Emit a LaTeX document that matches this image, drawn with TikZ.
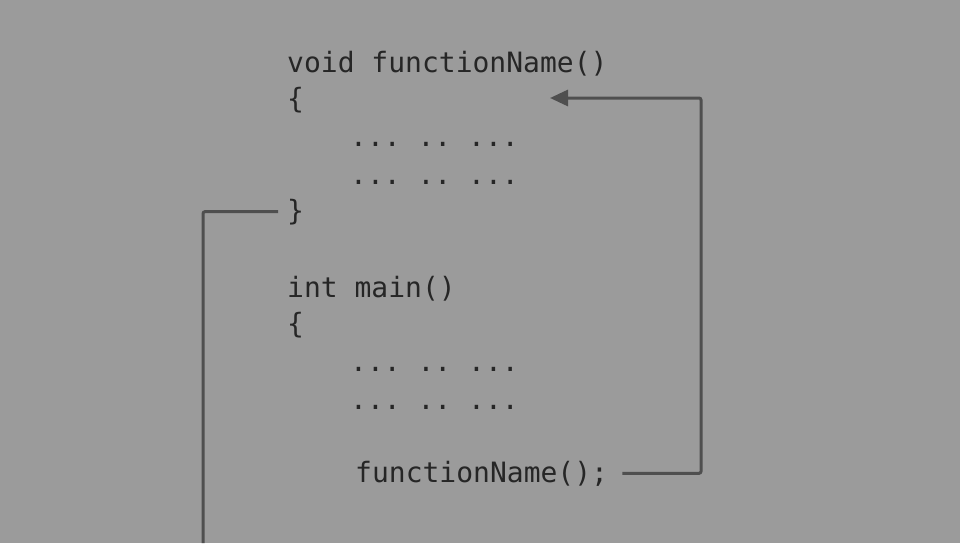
\documentclass[tikz,border=0pt]{standalone}
\usepackage{fontspec}
\setmonofont{DejaVu Sans Mono}
\usetikzlibrary{arrows.meta}
\definecolor{bggray}{HTML}{9B9B9B}
\definecolor{codeink}{HTML}{262626}
\definecolor{wire}{HTML}{4F4F4F}
\tikzset{
    code/.style={anchor=base west, inner sep=0pt, text=codeink, font=\fontsize{28}{34}\selectfont\ttfamily},
    flow/.style={draw=wire, line width=3pt, rounded corners=2pt},
    flowarrow/.style={flow, -{Triangle[length=18pt, width=16pt]}}
}
\begin{document}
\begin{tikzpicture}[x=1pt, y=-1pt]

        % -----------------------------------------------------------------
        % FONDO
        % -----------------------------------------------------------------
        \useasboundingbox (0,0) rectangle (960,543);
        \fill[bggray] (0,0) rectangle (960,543);

        % -----------------------------------------------------------------
        % FUNZIONE
        % -----------------------------------------------------------------
        \node[code] (sig) at (287,72) {void functionName()};
        \node[code] (open1) at (287,108) {\{};
        \node[code] (body1) at (350,146) {... .. ...};
        \node[code] (body2) at (350,184) {... .. ...};
        \node[code] (close1) at (287,220) {\}};

        % -----------------------------------------------------------------
        % MAIN
        % -----------------------------------------------------------------
        \node[code] (mainsig) at (287,297) {int main()};
        \node[code] (open2) at (287,333) {\{};
        \node[code] (body3) at (350,371) {... .. ...};
        \node[code] (body4) at (350,409) {... .. ...};
        \node[code] (call) at (355,482) {functionName();};

        % -----------------------------------------------------------------
        % FRECCE
        % -----------------------------------------------------------------
        \coordinate (rail) at (701,98);
        \coordinate (entry) at (550,98);
        \coordinate (exit) at (203,543);

        \draw[flowarrow] ([xshift=14pt]call.east) -| (rail) -- (entry);
        \draw[flow] ([xshift=-9pt]close1.west) -| (exit);

    \end{tikzpicture}
\end{document}
